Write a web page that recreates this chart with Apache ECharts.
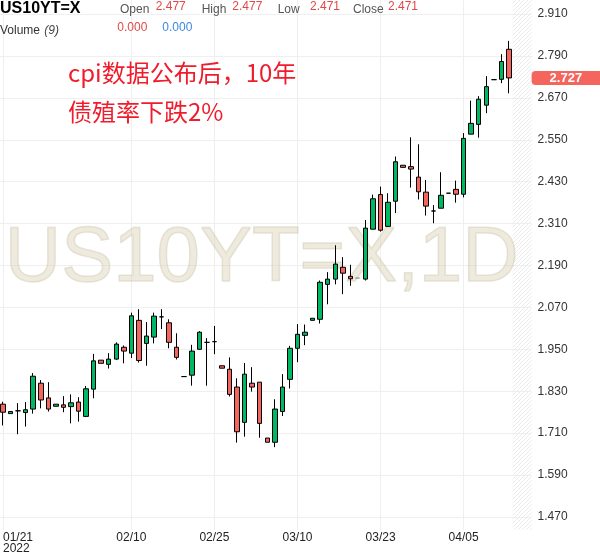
<!DOCTYPE html>
<html>
<head>
<meta charset="utf-8">
<script src="https://cdn.jsdelivr.net/npm/echarts@6/dist/echarts.min.js"></script>
<style>
html,body{margin:0;padding:0;background:#fff;}
#chart{width:600px;height:558px;}
</style>
</head>
<body>
<div id="chart"></div>
<script>
// ---------------- data ----------------
const dates = ['01/21','01/23','01/24','01/25','01/26','01/27','01/28','01/30','01/31','02/01',
  '02/02','02/03','02/04','02/06','02/07','02/08','02/09','02/10','02/11','02/14',
  '02/15','02/16','02/17','02/18','02/20','02/22','02/23','02/24','02/25','02/27',
  '02/28','03/01','03/02','03/03','03/04','03/06','03/07','03/08','03/09','03/10',
  '03/11','03/13','03/14','03/15','03/16','03/17','03/18','03/20','03/21','03/22',
  '03/23','03/24','03/25','03/27','03/28','03/29','03/30','03/31','04/01','04/03',
  '04/04','04/05','04/06','04/07','04/08','04/10','04/11','04/12'];
const opens = [1.793,1.766,1.774,1.769,1.779,1.853,1.811,1.787,1.791,1.786,
  1.799,1.758,1.836,1.919,1.907,1.922,1.956,1.939,2.033,1.967,
  1.985,2.043,2.026,1.956,1.872,1.876,1.950,1.970,1.972,1.903,
  1.893,1.842,1.741,1.853,1.856,1.696,1.684,1.772,1.864,1.953,
  1.990,2.033,2.036,2.136,2.151,2.185,2.159,2.154,2.151,2.294,
  2.393,2.302,2.374,2.477,2.473,2.443,2.400,2.346,2.354,2.397,
  2.408,2.394,2.566,2.594,2.649,2.722,2.723,2.809];
const closes = [1.770,1.772,1.774,1.777,1.873,1.805,1.779,1.793,1.784,1.797,
  1.773,1.837,1.917,1.910,1.922,1.965,1.945,2.046,1.918,1.988,
  2.045,2.043,1.970,1.927,1.872,1.945,1.999,1.970,1.972,1.896,
  1.821,1.714,1.879,1.842,1.738,1.684,1.779,1.842,1.953,1.993,
  1.999,2.039,2.142,2.151,2.194,2.168,2.152,2.154,2.297,2.381,
  2.291,2.371,2.487,2.471,2.466,2.401,2.360,2.346,2.391,2.397,
  2.394,2.554,2.597,2.666,2.702,2.722,2.774,2.727];
const lows = [1.732,1.766,1.707,1.729,1.766,1.781,1.772,1.787,1.770,1.738,
  1.743,1.756,1.810,1.910,1.895,1.920,1.910,1.925,1.912,1.903,
  1.967,2.008,1.953,1.921,1.872,1.846,1.950,1.846,1.936,1.896,
  1.815,1.683,1.700,1.829,1.697,1.684,1.670,1.759,1.838,1.913,
  1.962,2.033,2.024,2.079,2.136,2.108,2.132,2.154,2.147,2.294,
  2.287,2.300,2.340,2.471,2.413,2.379,2.333,2.311,2.354,2.397,
  2.370,2.385,2.566,2.556,2.626,2.722,2.712,2.683];
const highs = [1.800,1.772,1.796,1.799,1.882,1.862,1.856,1.793,1.816,1.821,
  1.813,1.845,1.937,1.919,1.939,1.970,1.961,2.055,2.065,2.028,
  2.055,2.065,2.036,1.996,1.872,1.963,2.002,1.982,2.017,1.903,
  1.927,1.867,1.911,1.899,1.856,1.696,1.807,1.879,1.960,2.022,
  2.021,2.039,2.147,2.171,2.248,2.214,2.192,2.154,2.320,2.393,
  2.416,2.397,2.502,2.477,2.557,2.537,2.435,2.363,2.457,2.397,
  2.433,2.569,2.662,2.675,2.732,2.722,2.795,2.833];
const gapIndex = 47;                     // bar drawn as a dashed gap marker
const futureSlots = ['', ' ', '  '];     // empty future space on the right
const labelDates = ['01/21','02/10','02/25','03/10','03/23','04/05'];
const yearLabel = '2022';
const yMin = 1.470, yMax = 2.910, yStep = 0.12;
const headerSymbol = 'US10YT=X';
const headerFields = ['Open','High','Low','Close'];
const headerValues = ['2.477','2.477','2.471','2.471'];
const volumeLabel = 'Volume', volumeCount = '(9)', volumeValues = ['0.000','0.000'];
const noteLines = ['cpi数据公布后，10年', '债殖率下跌2%'];
const watermark = 'US10YT=X,1D';

// ---------------- layout ----------------
const W = 600, H = 558;
const tickTopY = 14, tickBotY = 517;      // pixel rows of yMax / yMin ticks
const plotBottomY = 530, plotLeft = 3, plotRightX = 531.6;
const k = (tickBotY - tickTopY) / (yMax - yMin);
const y0Min = yMin - (plotBottomY - tickBotY) / k;
const y0Max = yMax + tickTopY / k;

const GREEN = '#00b864', RED = '#f4665d';
const categories = dates.concat(futureSlots);
const labelIdx = labelDates.map(d => dates.indexOf(d));

const candleData = dates.map((d, i) => {
  const v = [opens[i], closes[i], lows[i], highs[i]];
  if (i === gapIndex) return {value: v, itemStyle: {borderColor: '#9a9a9a', borderColor0: '#9a9a9a', borderType: 'dashed'}};
  return v;
});

const xCats = categories.map((c, i) => i === 0 ? {value: c, textStyle: {align: 'left'}} : c);

// hatch pattern
const pc = document.createElement('canvas');
pc.width = 4; pc.height = 4;
const g = pc.getContext('2d');
g.strokeStyle = '#ebebeb'; g.lineWidth = 1;
g.beginPath(); g.moveTo(-1, 5); g.lineTo(5, -1); g.stroke();

const chart = echarts.init(document.getElementById('chart'), null, {renderer: 'canvas'});
const FONT = '"Liberation Sans", Arial, sans-serif';

chart.setOption({
  animation: false,
  backgroundColor: '#fff',
  grid: [
    {left: plotLeft, right: W - plotRightX, top: 0, bottom: H - plotBottomY},
    {left: 0, right: W - plotRightX, top: tickTopY, bottom: H - tickBotY}
  ],
  xAxis: [
    {
      type: 'category', gridIndex: 0, data: xCats, boundaryGap: false,
      axisLine: {show: false}, axisTick: {show: false},
      axisLabel: {
        interval: (i) => labelIdx.indexOf(i) >= 0,
        formatter: (v, i) => i === 0 ? v + '\n' + yearLabel : v,
        color: '#222', fontSize: 12, lineHeight: 11, margin: 2,
        fontFamily: FONT, verticalAlign: 'top'
      },
      splitLine: {show: true, interval: (i) => labelIdx.indexOf(i) >= 0,
        lineStyle: {color: '#efefef', width: 1}}
    },
    {type: 'value', gridIndex: 1, show: false, min: 0, max: 1}
  ],
  yAxis: [
    {type: 'value', gridIndex: 0, min: y0Min, max: y0Max, show: false, splitLine: {show: false}},
    {
      type: 'value', gridIndex: 1, position: 'right', min: yMin, max: yMax, interval: yStep,
      axisLine: {show: false}, axisTick: {show: false},
      axisLabel: {formatter: v => v.toFixed(3), color: '#333', fontSize: 12, margin: 6, fontFamily: FONT},
      splitLine: {show: true, lineStyle: {color: '#efefef', width: 1}}
    }
  ],
  series: [{
    type: 'candlestick', xAxisIndex: 0, yAxisIndex: 0,
    data: candleData, barWidth: 5, clip: false,
    itemStyle: {color: GREEN, color0: RED, borderColor: '#000', borderColor0: '#000', borderWidth: 1},
    markLine: {
      silent: true, symbol: 'none', animation: false, precision: 3,
      lineStyle: {color: 'rgba(0,0,0,0)', width: 1, type: 'solid'},
      data: [{yAxis: closes[closes.length - 1]}],
      label: {
        show: true, position: 'end', distance: 0,
        formatter: p => Number(p.value).toFixed(3),
        backgroundColor: RED, color: '#fff', fontWeight: 'bold', fontSize: 13,
        fontFamily: FONT, lineHeight: 13, padding: [1, 18, 0, 18], borderRadius: [4, 0, 0, 4]
      }
    }
  }]
});

// decorations placed from the axes
const xa = chart.convertToPixel({xAxisIndex: 0}, dates.length - 1);
const xb = chart.convertToPixel({xAxisIndex: 0}, dates.length);
const hatchX = (xa + xb) / 2;

const hx = [120, 201.7, 277.7, 353];
const vx = [155.7, 232.3, 310, 388];
const graphics = [
  {type: 'rect', silent: true, z: 1, shape: {x: hatchX, y: 0, width: plotRightX - hatchX, height: plotBottomY},
   style: {fill: {image: pc, repeat: 'repeat'}}},
  {type: 'text', silent: true, z: 1, style: {x: 261.7, y: 259, text: watermark, textAlign: 'center', textVerticalAlign: 'middle',
   font: '78px "Liberation Sans", Arial, sans-serif', fill: 'rgba(218,210,182,0.45)', stroke: 'rgba(190,180,150,0.35)', lineWidth: 1.5}},
  {type: 'text', silent: true, z: 10, style: {x: 0, y: 9, text: headerSymbol, textVerticalAlign: 'middle',
   font: 'bold 16px "Liberation Sans", Arial, sans-serif', fill: '#000'}},
  {type: 'text', silent: true, z: 10, style: {x: 0, y: 30.5, text: volumeLabel, textVerticalAlign: 'middle',
   font: '12px "Liberation Sans", Arial, sans-serif', fill: '#333'}},
  {type: 'text', silent: true, z: 10, style: {x: 44.3, y: 30.5, text: volumeCount, textVerticalAlign: 'middle',
   font: 'italic 12px "Liberation Sans", Arial, sans-serif', fill: '#444'}},
  {type: 'text', silent: true, z: 10, style: {x: 117.3, y: 28, text: volumeValues[0], textVerticalAlign: 'middle',
   font: '12px "Liberation Sans", Arial, sans-serif', fill: '#e04848'}},
  {type: 'text', silent: true, z: 10, style: {x: 162.3, y: 28, text: volumeValues[1], textVerticalAlign: 'middle',
   font: '12px "Liberation Sans", Arial, sans-serif', fill: '#3d87e0'}}
];
headerFields.forEach((f, i) => {
  graphics.push({type: 'text', silent: true, z: 10, style: {x: hx[i], y: 10, text: f, textVerticalAlign: 'middle',
    font: '12px "Liberation Sans", Arial, sans-serif', fill: '#555'}});
  graphics.push({type: 'text', silent: true, z: 10, style: {x: vx[i], y: 6.5, text: headerValues[i], textVerticalAlign: 'middle',
    font: '12px "Liberation Sans", Arial, sans-serif', fill: '#e04848'}});
});
noteLines.forEach((t, i) => {
  graphics.push({type: 'text', silent: true, z: 10, style: {x: 68, y: 72.5 + i * 39.5, text: t, textVerticalAlign: 'middle',
    font: '24px "Noto Sans CJK SC", sans-serif', fill: '#f01c2c'}});
});
chart.setOption({graphic: graphics});
</script>
</body>
</html>
